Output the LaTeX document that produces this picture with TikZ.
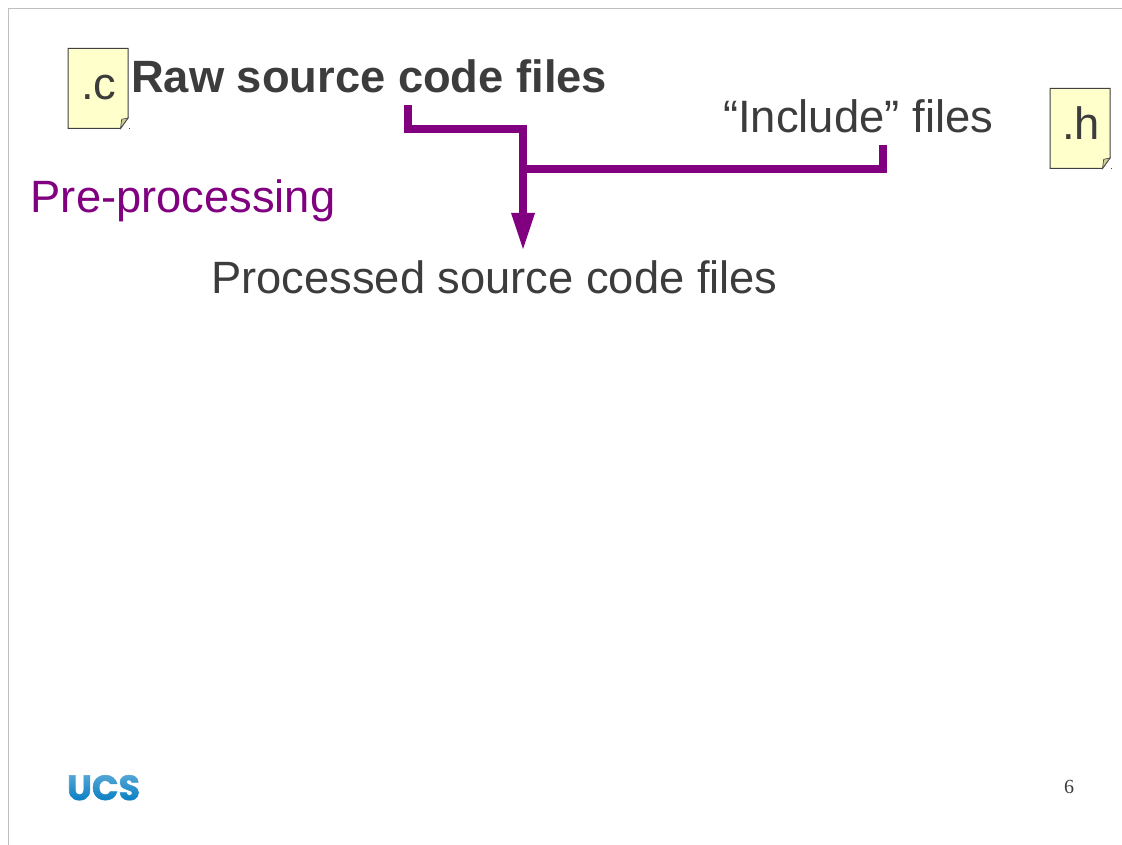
\documentclass[tikz,border=0pt]{standalone}
\usepackage{fontspec}
\setmainfont{Liberation Sans}
\newfontfamily\numfont{Liberation Serif}
\newfontfamily\logofont[BoldFeatures={FakeBold=1.5}]{Poppins}
\usetikzlibrary{arrows.meta}
\definecolor{slidetext}{HTML}{3C3C3C}
\definecolor{flowpurple}{HTML}{800080}
\definecolor{pageyellow}{HTML}{FFFFCC}
\definecolor{foldyellow}{HTML}{CCCC99}
\definecolor{logoblue}{HTML}{0A80C4}
\tikzset{
  slidelabel/.style={anchor=base west, inner sep=0pt, text=slidetext, font=\fontsize{45.3}{50}\selectfont},
  docpage/.style={draw=black!75, fill=pageyellow, line width=1pt, line join=miter},
  docfold/.style={draw=black!70, fill=foldyellow, line width=.7pt},
  doclabel/.style={anchor=base, inner sep=0pt, text=slidetext, font=\fontsize{45.3}{50}\selectfont},
  feedline/.style={draw=flowpurple, line width=8pt, line join=miter},
  feedarrow/.style={feedline, -{Triangle[width=24pt, length=36pt, line width=0pt]}},
  cornerdot/.style={fill=black!70, inner sep=0pt, minimum size=1pt},
}
\begin{document}
\begin{tikzpicture}[x=1pt, y=-1pt]
  \useasboundingbox (0, 0) rectangle (1122, 845) ;
  %--- Cadre
  \draw[black!25, line width=1pt] (8, 845) -- (8, 8.5) -- (1122, 8.5) ;
  %--- Fichier .c
  \draw[docpage] (68, 48.5) -- (128, 48.5) -- (128, 118) -- (120.5, 128.5) -- (68, 128.5) -- cycle ;
  \draw[docfold] (128, 118) -- (120.5, 128.5) -- (121.7, 119.3) -- cycle ;
  \node[doclabel] (cfile) at (99, 100) {.c} ;
  \node[cornerdot] (cdot) at (129, 129) {} ;
  %--- Fichier .h
  \draw[docpage] (1050, 88.5) -- (1110, 88.5) -- (1110, 158) -- (1102.5, 168.5) -- (1050, 168.5) -- cycle ;
  \draw[docfold] (1110, 158) -- (1102.5, 168.5) -- (1103.7, 159.3) -- cycle ;
  \node[doclabel] (hfile) at (1081, 140) {.h} ;
  \node[cornerdot] (hdot) at (1111, 169) {} ;
  %--- Textes
  \node[slidelabel, font=\fontsize{45.3}{50}\selectfont\bfseries] (raw) at (131, 93) {Raw source code files} ;
  \node[slidelabel, font=\fontsize{45.4}{50}\selectfont] (include) at (723, 133) {“Include” files} ;
  \node[slidelabel, text=flowpurple] (prepro) at (30.5, 213) {Pre-processing} ;
  \node[slidelabel] (processed) at (211, 293) {Processed source code files} ;
  %--- Fleches
  \coordinate (rawout) at (408, 105) ;
  \coordinate (rawbend) at (523, 129) ;
  \coordinate (includeout) at (883, 145) ;
  \coordinate (merge) at (523, 169) ;
  \coordinate (processedin) at (523, 249) ;
  \draw[feedarrow] (rawout) |- (rawbend) -- (processedin) ;
  \draw[feedline] (includeout) |- (merge) ;
  %--- Logo et numero
  \node[anchor=base west, inner sep=0pt, text=logoblue, font=\logofont\fontsize{35}{40}\selectfont\bfseries] (logo) at (67, 800) {UCS} ;
  \foreach \row in {0, 2, ..., 24}
    \fill[white, fill opacity={.3*(1-\row/26)}] (60, 774+\row) rectangle (145, 776+\row) ;
  \node[inner sep=0pt, text=slidetext, font=\numfont\fontsize{20}{24}\selectfont] (pagenum) at (1069, 787) {6} ;
\end{tikzpicture}
\end{document}
